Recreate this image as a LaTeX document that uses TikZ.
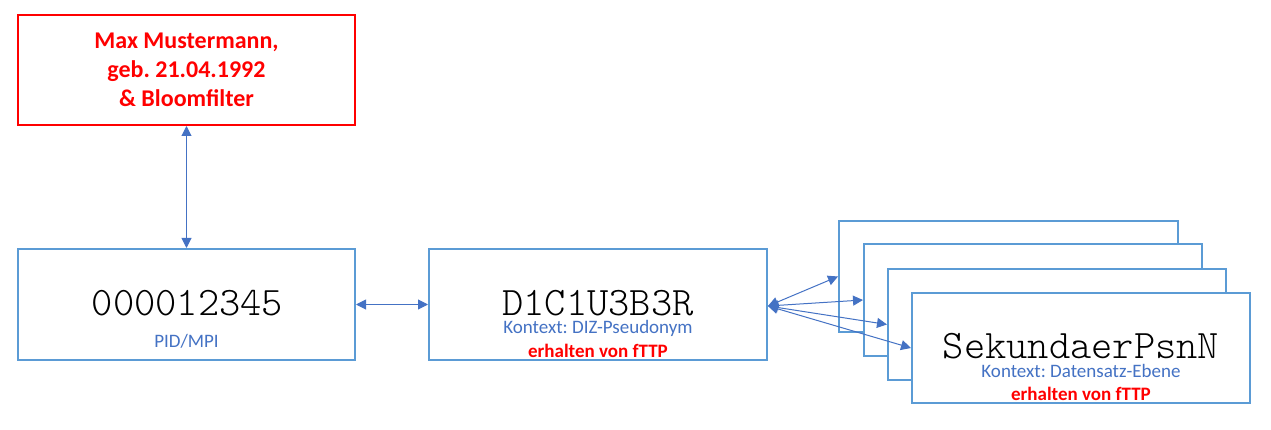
\documentclass[tikz,border=0pt]{standalone}
\usepackage{fontspec}
\setmainfont{Carlito}
\newfontfamily\monolt{Latin Modern Mono Light}
\usetikzlibrary{arrows.meta}
\definecolor{boxblue}{HTML}{5B9BD5}
\definecolor{arrblue}{HTML}{4472C4}
\definecolor{txtblue}{HTML}{4472C4}
\definecolor{myred}{HTML}{FF0000}
\tikzset{
  bbox/.style={draw=boxblue, line width=2pt, fill=white, rectangle, inner sep=0pt},
  rbox/.style={draw=myred, line width=2pt, fill=white, rectangle, inner sep=0pt},
  arr/.style={draw=arrblue, line width=1pt, {Triangle[length=10pt,width=10pt]}-{Triangle[length=10pt,width=10pt]}},
  mono/.style={font=\monolt\fontsize{40.5}{44}\selectfont, text=black, inner sep=0pt, anchor=base, text depth=0pt},
  btxt/.style={font=\fontsize{19}{22}\selectfont, text=txtblue, inner sep=0pt, anchor=base, text height=12pt},
  rtxt/.style={font=\bfseries\fontsize{19}{22}\selectfont, text=myred, inner sep=0pt, anchor=base, text height=12pt},
}
\begin{document}
\frenchspacing
\begin{tikzpicture}[x=1pt,y=-1pt]
\useasboundingbox (0,0) rectangle (1271,430);
% red box
\node[rbox, minimum width=337pt, minimum height=110pt] (red) at (186.5,70) {};
\node[font=\bfseries\fontsize{24}{29}\selectfont, text=myred, align=center, inner sep=0pt] (redtxt) at (186.5,70) {Max Mustermann,\\geb. 21.04.1992\\\& Bloomfilter};
% box 1
\node[bbox, minimum width=337pt, minimum height=111pt] (b1) at (186.5,304.5) {};
\node[mono] (b1t) at (187.5,315) {000012345};
\node[btxt] (b1s) at (186.5,347) {PID/MPI};
% box 2
\node[bbox, minimum width=338pt, minimum height=111pt] (b2) at (598,304.5) {};
\node[mono] (b2t) at (598,315) {D1C1U3B3R};
\node[btxt] (b2s) at (598,333.5) {Kontext: DIZ-Pseudonym};
\node[rtxt] (b2r) at (598,357) {erhalten von fTTP};
% stacked boxes
\node[bbox, minimum width=339pt, minimum height=111pt] (sa) at (1008.5,276.5) {};
\node[bbox, minimum width=338pt, minimum height=112pt] (sb) at (1033,300) {};
\node[bbox, minimum width=338pt, minimum height=111pt] (sc) at (1057,324.5) {};
\node[bbox, minimum width=338pt, minimum height=110pt] (sd) at (1081,348) {};
\node[mono] (sdt) at (1081,358) {SekundaerPsnN};
\node[btxt] (sds) at (1081,377.5) {Kontext: Datensatz-Ebene};
\node[rtxt] (sdr) at (1081,400) {erhalten von fTTP};
% connectors
\draw[arr] (red.south) -- (b1.north);
\draw[arr] (b1.east) -- (b2.west);
\coordinate (s) at ([yshift=-1.5pt]b2.east);
\draw[arr] (s) -- (sa.west);
\draw[arr] (s) -- (sb.west);
\draw[arr] (s) -- (sc.west);
\draw[arr] (s) -- (sd.west);
\end{tikzpicture}
\end{document}
